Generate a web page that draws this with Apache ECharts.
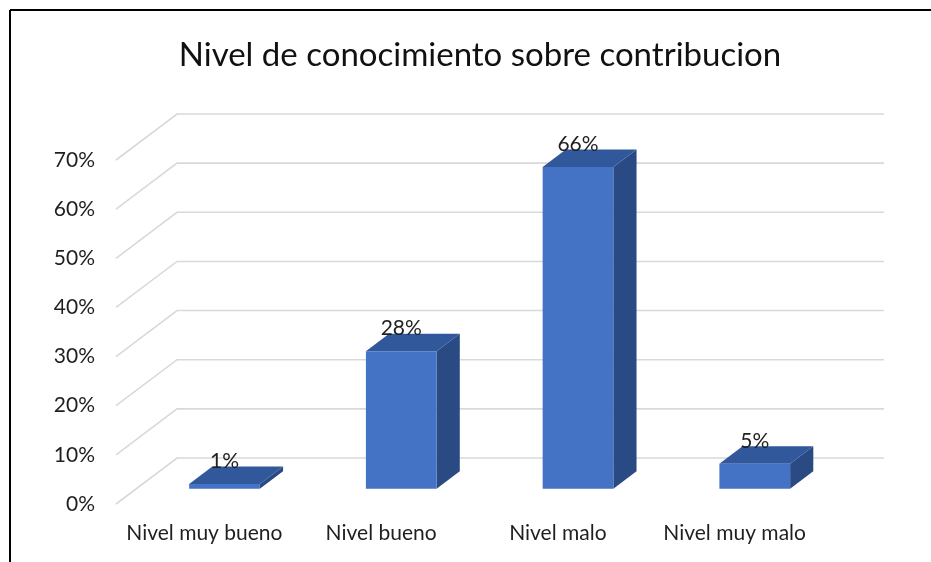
<!DOCTYPE html>
<html>
<head>
<meta charset="utf-8">
<script src="https://cdn.jsdelivr.net/npm/echarts@6/dist/echarts.min.js"></script>
<style>
  html, body { margin: 0; padding: 0; background: #fff; }
  #chart { width: 931px; height: 562px; }
</style>
</head>
<body>
<div id="chart"></div>
<script>
const categories = ['Nivel muy bueno', 'Nivel bueno', 'Nivel malo', 'Nivel muy malo']
const values = [1, 28, 65.5, 5.1]
const yTicks = [0, 10, 20, 30, 40, 50, 60, 70]

// fake 3d: back wall sits this far from the front plane
const DX = 61
const DY = -46
const FRONT = 0.33
const BACK = 0.71
const BAR_RATIO = 0.4
const FONT = 'Lato, "Noto Sans", sans-serif'

const chart = echarts.init(document.getElementById('chart'))

function renderGrid(params, api) {
  const cs = params.coordSys
  const p = api.coord([0, api.value(1)])
  const x0 = cs.x
  const y0 = p[1]
  return {
    type: 'polyline',
    shape: { points: [[x0, y0], [x0 + DX, y0 + DY], [x0 + cs.width + DX, y0 + DY]] },
    style: { stroke: '#d9d9d9', lineWidth: 1.6, fill: null },
    silent: true
  }
}

function renderBar(params, api) {
  const cat = api.value(0)
  const v = api.value(1)
  const base = api.coord([cat, 0])
  const top = api.coord([cat, v])
  const w = api.size([1, 0])[0] * BAR_RATIO
  const x0 = base[0] - w / 2 + DX * FRONT
  const x1 = x0 + w
  const yb = base[1] + DY * FRONT
  const yt = top[1] + DY * FRONT
  const bx = DX * (BACK - FRONT)
  const by = DY * (BACK - FRONT)
  return {
    type: 'group',
    children: [
      {
        type: 'polygon',
        shape: { points: [[x1, yt], [x1 + bx, yt + by], [x1 + bx, yb + by], [x1, yb]] },
        style: { fill: '#2a4a84' }
      },
      {
        type: 'polygon',
        shape: { points: [[x0, yt], [x1, yt], [x1 + bx, yt + by], [x0 + bx, yt + by]] },
        style: { fill: '#30589a' }
      },
      {
        type: 'rect',
        shape: { x: x0, y: yt, width: w, height: yb - yt },
        style: { fill: '#4472c4' }
      },
      {
        type: 'text',
        x: x0 + w / 2,
        y: yt - 12,
        style: {
          text: Math.round(v) + '%',
          fill: '#1f1f1f',
          font: '21px ' + FONT,
          align: 'center',
          verticalAlign: 'bottom'
        },
        z2: 10
      }
    ]
  }
}

chart.setOption({
  animation: false,
  title: {
    text: 'Nivel de conocimiento sobre contribucion',
    left: 475,
    textAlign: 'center',
    top: 34,
    textStyle: { fontFamily: FONT, fontSize: 33, fontWeight: 'normal', color: '#111' }
  },
  graphic: [
    { type: 'line', shape: { x1: 10, y1: 10, x2: 931, y2: 10 }, style: { stroke: '#000', lineWidth: 2 } },
    { type: 'line', shape: { x1: 10, y1: 10, x2: 10, y2: 562 }, style: { stroke: '#000', lineWidth: 2 } }
  ],
  grid: { left: 116, right: 108, top: 160, bottom: 58 },
  xAxis: {
    type: 'category',
    data: categories,
    axisLine: { show: false },
    axisTick: { show: false },
    axisLabel: { margin: 19, color: '#1f1f1f', fontFamily: FONT, fontSize: 21, interval: 0 }
  },
  yAxis: {
    type: 'value',
    min: 0,
    max: 70,
    interval: 10,
    splitLine: { show: false },
    axisLabel: { margin: 21, color: '#1f1f1f', fontFamily: FONT, fontSize: 21, formatter: '{value}%' }
  },
  series: [
    {
      type: 'custom',
      renderItem: renderGrid,
      data: yTicks.map(v => [0, v]),
      z: 1
    },
    {
      type: 'custom',
      renderItem: renderBar,
      data: values.map((v, i) => [i, v]),
      z: 2
    }
  ]
})
</script>
</body>
</html>
